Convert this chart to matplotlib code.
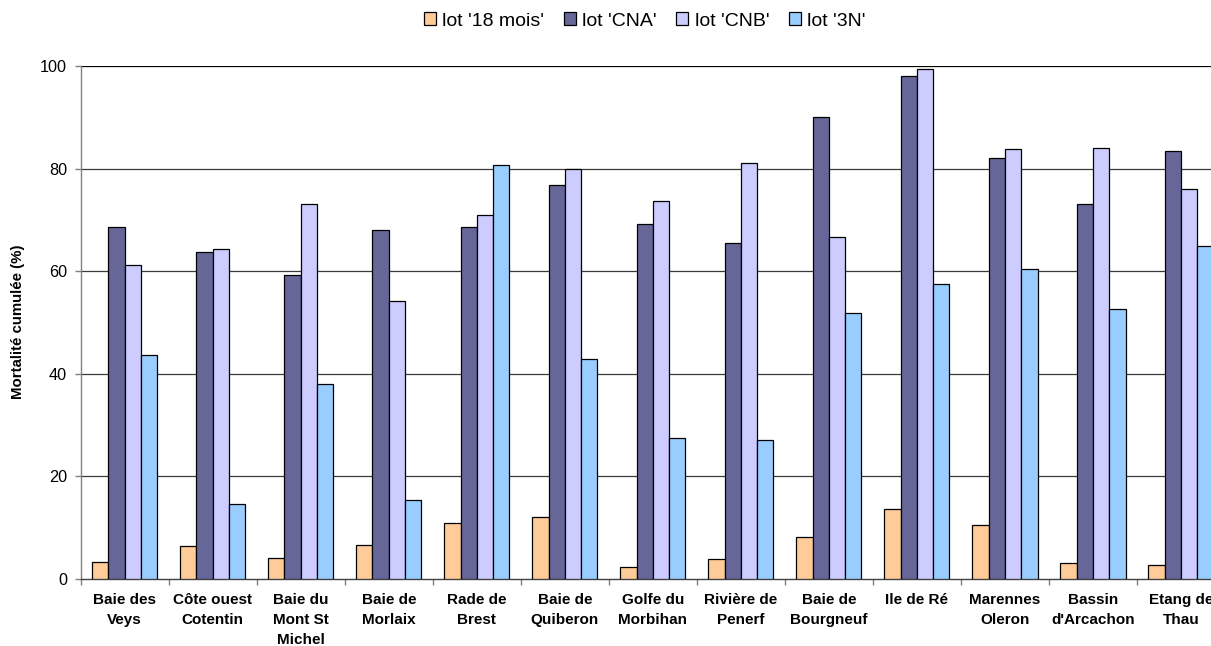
import matplotlib
matplotlib.use("Agg")
import matplotlib.pyplot as plt
import numpy as np

plt.rcParams['font.family'] = ['Liberation Sans', 'DejaVu Sans']

sites = ["Baie des\nVeys", "Côte ouest\nCotentin", "Baie du\nMont St\nMichel",
         "Baie de\nMorlaix", "Rade de\nBrest", "Baie de\nQuiberon",
         "Golfe du\nMorbihan", "Rivière de\nPenerf", "Baie de\nBourgneuf",
         "Ile de Ré", "Marennes\nOleron", "Bassin\nd'Arcachon", "Etang de\nThau"]

lot_18_mois = [3.2, 6.4, 4.0, 6.6, 10.8, 12.1, 2.3, 3.8, 8.2, 13.5, 10.5, 3.0, 2.7]
lot_cna = [68.6, 63.8, 59.3, 68.1, 68.6, 76.8, 69.2, 65.5, 90.0, 98.1, 82.0, 73.1, 83.4]
lot_cnb = [61.2, 64.4, 73.1, 54.1, 71.0, 80.0, 73.6, 81.0, 66.7, 99.5, 83.9, 84.1, 76.0]
lot_3n = [43.6, 14.5, 37.9, 15.3, 80.7, 42.9, 27.4, 27.0, 51.9, 57.5, 60.4, 52.6, 64.9]

series_names = ["lot '18 mois'", "lot 'CNA'", "lot 'CNB'", "lot '3N'"]
series_colors = ["#FFCC99", "#666699", "#CCCCFF", "#99CCFF"]
yticks = [0, 20, 40, 60, 80, 100]

W, H, DPI = 1211, 646, 100
fig = plt.figure(figsize=(W / DPI, H / DPI), dpi=DPI)
# plot area runs slightly past the right edge of the figure
left, right, bottom, top = 80.7, 1225.0, 578.7, 66.0
ax = fig.add_axes([left / W, (H - bottom) / H, (right - left) / W, (bottom - top) / H])

n = len(sites)
x = np.arange(n) + 0.5
w = 0.185
all_series = [lot_18_mois, lot_cna, lot_cnb, lot_3n]
for k, (vals, name, col) in enumerate(zip(all_series, series_names, series_colors)):
    ax.bar(x + (k - 1.5) * w, vals, width=w, color=col, edgecolor="black",
           linewidth=0.9, label=name, zorder=3)

ax.set_xlim(0, n)
ax.set_ylim(0, 100)
ax.set_yticks(yticks)
ax.set_yticklabels([str(v) for v in yticks], fontsize=11.7)
for v in yticks[1:]:
    ax.axhline(v, color="#3a3a3a" if v < 100 else "black", linewidth=0.9, zorder=1)

ax.set_xticks(x)
ax.set_xticklabels(sites, fontsize=11, fontweight="bold", linespacing=1.56)
ax.tick_params(axis="x", which="major", length=0, pad=10)
ax.set_xticks(np.arange(0, n + 1), minor=True)
ax.tick_params(axis="x", which="minor", length=4, color="#808080", width=1)
ax.tick_params(axis="y", length=4.3, color="#808080", width=1, pad=5.5)

for s in ["top", "right"]:
    ax.spines[s].set_visible(False)
ax.spines["left"].set_color("#808080")
ax.spines["bottom"].set_color("#404040")
ax.spines["left"].set_linewidth(1)
ax.spines["bottom"].set_linewidth(1)

fig.text(18 / W, 1 - 322 / H, "Mortalité cumulée (%)", rotation=90, fontsize=10.8,
         fontweight="bold", ha="center", va="center")

fig.legend(loc="center", bbox_to_anchor=(645 / W, 1 - 21 / H), ncol=4, frameon=False,
           fontsize=14, handlelength=0.6, handleheight=0.6, handletextpad=0.35,
           columnspacing=1.0, borderaxespad=0)

fig.savefig("out.png", dpi=DPI)
